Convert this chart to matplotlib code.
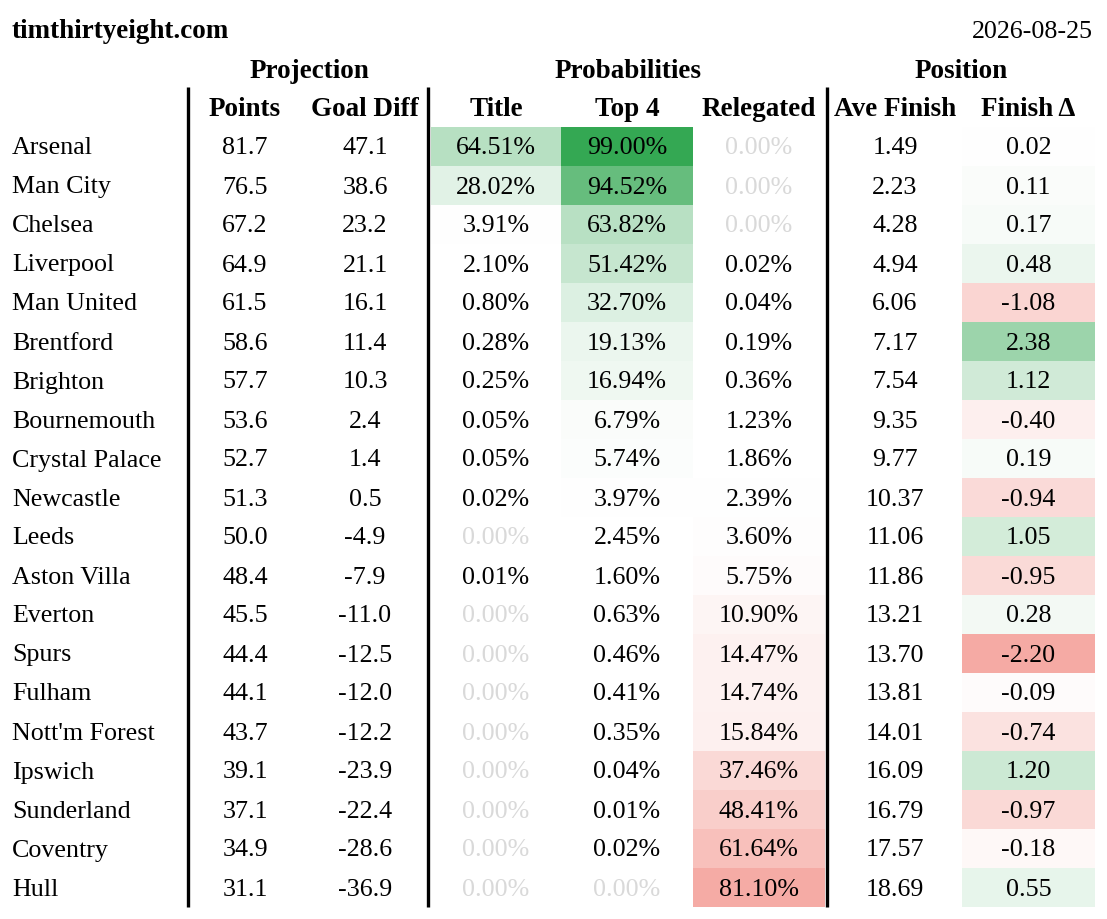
import numpy as np
import matplotlib
matplotlib.use("Agg")
import matplotlib.pyplot as plt
from matplotlib.patches import Rectangle

teams = ["Arsenal", "Man City", "Chelsea", "Liverpool", "Man United", "Brentford",
         "Brighton", "Bournemouth", "Crystal Palace", "Newcastle", "Leeds",
         "Aston Villa", "Everton", "Spurs", "Fulham", "Nott'm Forest", "Ipswich",
         "Sunderland", "Coventry", "Hull"]
points = [81.7, 76.5, 67.2, 64.9, 61.5, 58.6, 57.7, 53.6, 52.7, 51.3,
          50.0, 48.4, 45.5, 44.4, 44.1, 43.7, 39.1, 37.1, 34.9, 31.1]
goal_diff = [47.1, 38.6, 23.2, 21.1, 16.1, 11.4, 10.3, 2.4, 1.4, 0.5,
             -4.9, -7.9, -11.0, -12.5, -12.0, -12.2, -23.9, -22.4, -28.6, -36.9]
title_pct = [64.51, 28.02, 3.91, 2.10, 0.80, 0.28, 0.25, 0.05, 0.05, 0.02,
             0.00, 0.01, 0.00, 0.00, 0.00, 0.00, 0.00, 0.00, 0.00, 0.00]
top4_pct = [99.00, 94.52, 63.82, 51.42, 32.70, 19.13, 16.94, 6.79, 5.74, 3.97,
            2.45, 1.60, 0.63, 0.46, 0.41, 0.35, 0.04, 0.01, 0.02, 0.00]
releg_pct = [0.00, 0.00, 0.00, 0.02, 0.04, 0.19, 0.36, 1.23, 1.86, 2.39,
             3.60, 5.75, 10.90, 14.47, 14.74, 15.84, 37.46, 48.41, 61.64, 81.10]
ave_finish = [1.49, 2.23, 4.28, 4.94, 6.06, 7.17, 7.54, 9.35, 9.77, 10.37,
              11.06, 11.86, 13.21, 13.70, 13.81, 14.01, 16.09, 16.79, 17.57, 18.69]
finish_delta = [0.02, 0.11, 0.17, 0.48, -1.08, 2.38, 1.12, -0.40, 0.19, -0.94,
                1.05, -0.95, 0.28, -2.20, -0.09, -0.74, 1.20, -0.97, -0.18, 0.55]

GREEN = "#34A853"
RED = "#EA4335"
GREY = "#d9d9d9"
FONT = "Liberation Serif"
FS = 18.7
FS_BOLD = 19.5

plt.rcParams["font.family"] = FONT

fig = plt.figure(figsize=(11.07, 9.19), dpi=100)
ax = fig.add_axes([0, 0, 1, 1])
ax.set_xlim(0, 1107)
ax.set_ylim(919, 0)
ax.axis("off")

row_top = 127
row_h = 39


def prob_alpha(p):
    return np.interp(p / 100, [0, 0.03, 0.65, 0.945, 0.99, 1.0],
                     [0, 0, 0.355, 0.75, 1.0, 1.0])


def shade(x0, x1, i, color, alpha):
    if alpha <= 0:
        return
    ax.add_patch(Rectangle((x0, row_top + i * row_h), x1 - x0, row_h,
                           facecolor=color, alpha=alpha, lw=0, zorder=1))


def cell(x, i, s, color="black", ha="center"):
    ax.text(x, row_top + i * row_h + row_h / 2 + 2, s, ha=ha, va="center",
            fontsize=FS, color=color, zorder=3)


# header
ax.text(12, 32, "timthirtyeight.com", fontsize=FS_BOLD, fontweight="bold", va="center")
ax.text(1093, 32, "2026-08-25", fontsize=FS, va="center", ha="right")
for label, xc in [("Projection", 309), ("Probabilities", 628), ("Position", 961)]:
    ax.text(xc, 71, label, fontsize=FS_BOLD, fontweight="bold", ha="center", va="center")
col_heads = [("Points", 245), ("Goal Diff", 365), ("Title", 496), ("Top 4", 627),
             ("Relegated", 759), ("Ave Finish", 895), ("Finish Δ", 1028)]
for label, xc in col_heads:
    ax.text(xc, 110, label, fontsize=FS_BOLD, fontweight="bold", ha="center", va="center")

# column edges for shaded cells
title_x = (431, 561)
top4_x = (561, 693)
releg_x = (693, 825)
delta_x = (962, 1095)


def pct_text(x, i, v):
    cell(x, i, f"{v:.2f}%", color=GREY if v == 0 else "black")


for i, team in enumerate(teams):
    cell(12, i, team, ha="left")
    cell(245, i, f"{points[i]:.1f}")
    cell(365, i, f"{goal_diff[i]:.1f}")

    shade(*title_x, i, GREEN, prob_alpha(title_pct[i]))
    pct_text(sum(title_x) / 2, i, title_pct[i])
    shade(*top4_x, i, GREEN, prob_alpha(top4_pct[i]))
    pct_text(sum(top4_x) / 2, i, top4_pct[i])
    shade(*releg_x, i, RED, max(releg_pct[i] - 2, 0) / 100 * 0.56)
    pct_text(sum(releg_x) / 2, i, releg_pct[i])

    cell(895, i, f"{ave_finish[i]:.2f}")
    d = finish_delta[i]
    shade(*delta_x, i, GREEN if d > 0 else RED, min(abs(d) * 0.205, 1))
    cell(sum(delta_x) / 2, i, f"{d:.2f}")

# vertical separators
y_end = row_top + len(teams) * row_h
for xv in (188, 428, 827):
    ax.plot([xv, xv], [87, y_end], color="black", lw=2.4, solid_capstyle="butt", zorder=4)

fig.savefig("out.png", dpi=100)
